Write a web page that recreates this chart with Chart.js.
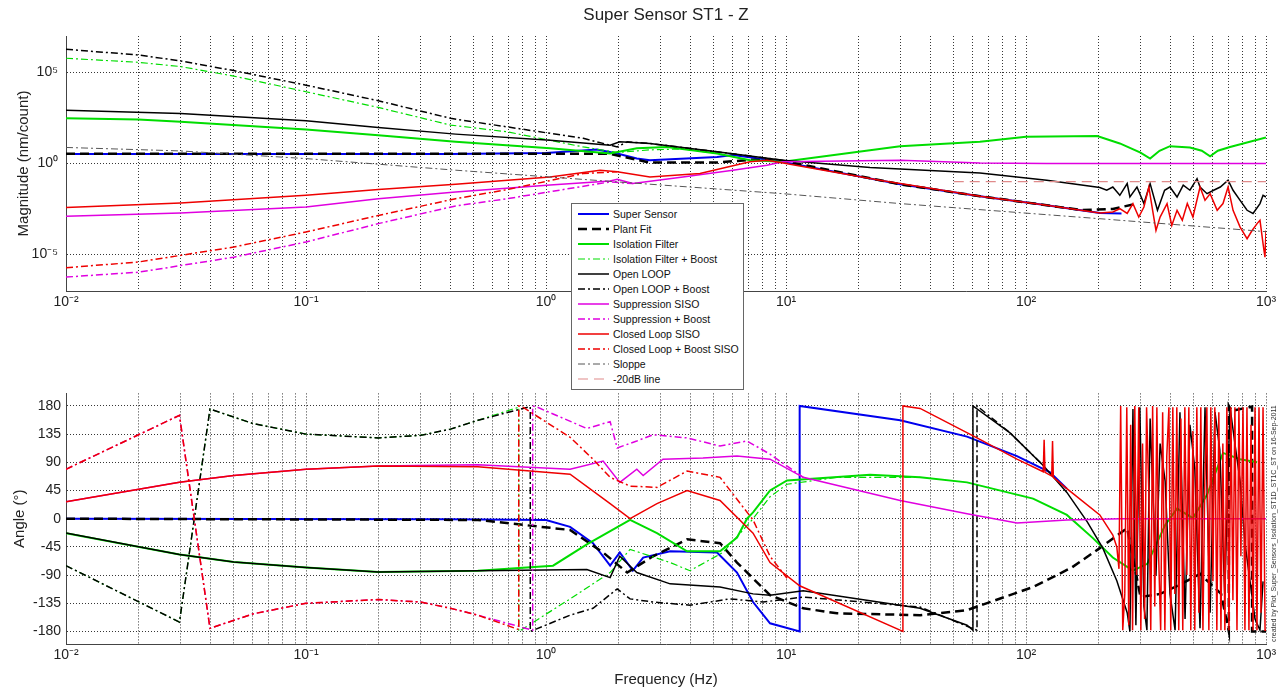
<!DOCTYPE html>
<html lang="en">
<head>
<meta charset="UTF-8">
<title>Super Sensor ST1 - Z</title>
<script src="https://cdn.jsdelivr.net/npm/chart.js"></script>
<style>
  body { margin: 0; background: #fff; width: 1285px; height: 690px; overflow: hidden; position: relative;
         font-family: "Liberation Sans", Arial, sans-serif; }
  #magBox { position: absolute; left: 0; top: 0; }
  #phaseBox { position: absolute; left: 0; top: 380px; }
  #title { position: absolute; left: 66px; width: 1200px; top: 5px; text-align: center; font-size: 17px; color: #222; }
  /* legend sits over both axes, like the matlab one */
  #legend { position: absolute; left: 571px; top: 203px; width: 171px; padding: 2px 0 3px 0;
            border: 1px solid #666; background: #fff; font-size: 10.5px; color: #111; }
  #legend .row { height: 15px; display: flex; align-items: center; }
  #legend svg { margin: 0 4px 0 6px; }
  #stamp { position: absolute; left: 1270px; top: 398px; height: 244px; font-size: 7px; color: #333;
           writing-mode: vertical-rl; transform: rotate(180deg); white-space: nowrap; }
</style>
</head>
<body>

<div id="magBox"><canvas id="magChart" width="1285" height="311"></canvas></div>
<div id="phaseBox"><canvas id="phaseChart" width="1285" height="310"></canvas></div>
<div id="title">Super Sensor ST1 - Z</div>
<div id="legend"></div>
<div id="stamp">created by Plot_Super_Sensors_Isolation_ST1D_ST1C_ST on 16-Sep-2011</div>

<script>
// ---- axes / ticks ----
const xDecades = [0.01, 0.1, 1, 10, 100, 1000];
const xDecadeLabels = ['10⁻²', '10⁻¹', '10⁰', '10¹', '10²', '10³'];
const magTickValues = [1e-5, 1, 1e5];
const magTickLabels = ['10⁻⁵', '10⁰', '10⁵'];
const phaseTickValues = [-180, -135, -90, -45, 0, 45, 90, 135, 180];

// ---- magnitude (nm/count), pairs of [Hz, value] ----
const superSensorMag = [[0.01,3.3],[0.4,3.3],[1.0,3.8],[1.63,5.9],[1.98,3.5],[2.39,1.9],[2.71,1.5],[5.16,2.3],[6.01,2.9],
  [9.72,1.23],[29.9,0.072],[64.3,0.016],[122,0.0051],[203,0.0019],[250,0.0018]];
const plantFitMag = [[0.01,3.4],[1.0,3.4],[1.85,3.4],[2.39,1.6],[2.71,1.12],[5.16,1.12],[7.08,1.6],[9.72,1.4],
  [29.9,0.072],[64.3,0.016],[122,0.0051],[170,0.0028],[230,0.0032],[279,0.0056]];
const isoMag = [[0.01,302],[0.02,263],[0.03,195],[0.1,74],[0.2,36],[0.42,15.5],[1.04,6.8],[1.85,3.5],[2.39,6.8],
  [3.19,8.1],[5.16,3.5],[7.08,1.5],[9.72,1.23],[29.9,8.9],[64.3,15.5],[100,29],[198,32],[246,12.6],[300,4.0],
  [329,1.86],[360,5.0],[398,8.9],[482,7.6],[540,5.0],[585,2.5],[630,5.0],[708,8.1],[1000,27]];
const isoBoostMag = [[0.01,6.0e5],[0.02,3.6e5],[0.03,2.1e5],[0.05,6.3e4],[0.1,8.7e3],[0.2,1.2e3],[0.4,129],[0.69,55],
  [1.43,8.1],[1.98,4.0],[2.71,5.6],[3.72,6.3],[5.16,3.5]];
const openLoopMag = [[0.01,850],[0.03,560],[0.1,224],[0.2,95],[0.42,41],[1.04,19],[1.85,10],[2.03,15.5],[2.71,12.6],
  [5.16,4.4],[9.72,1.5],[22.4,0.6],[64.3,0.30],[122,0.12],[203,0.048],[217,0.034],[230,0.051],[246,0.018],[264,0.079],
  [271,0.0145],[290,0.051],[310,0.0063],[329,0.079],[353,0.0027],[378,0.034],[398,0.051],[426,0.0145],[452,0.064],
  [482,0.034],[516,0.148],[531,0.051],[568,0.022],[605,0.034],[645,0.051],[695,0.12],[729,0.034],[780,0.0095],
  [834,0.0027],[883,0.0018],[944,0.0063],[972,0.018],[1000,0.0145]];
const openLoopBoostMag = [[0.01,1.86e6],[0.02,9.1e5],[0.03,4.3e5],[0.05,1.26e5],[0.1,2.0e4],[0.2,2.8e3],[0.4,302],
  [0.69,102],[1.43,24],[1.98,8.1],[2.18,15.5],[2.71,12.6],[5.16,4.4],[9.72,1.5]];
const suppMag = [[0.01,0.00126],[0.03,0.0019],[0.1,0.0041],[0.2,0.0117],[0.42,0.0275],[1.04,0.065],[1.85,0.11],
  [1.98,0.138],[2.3,0.079],[3.72,0.18],[6.01,0.43],[8.33,0.81],[9.72,1.23],[29.9,1.5],[64.3,1.07],[122,1.0],[1000,1.0]];
const suppBoostMag = [[0.01,5.8e-7],[0.02,1.07e-6],[0.05,7.2e-6],[0.1,4.9e-5],[0.2,5.0e-4],[0.42,4.7e-3],
  [0.69,0.0117],[1.85,0.098],[2.3,0.079]];
const closedLoopMag = [[0.01,0.0038],[0.03,0.0068],[0.1,0.018],[0.2,0.037],[0.42,0.072],[1.04,0.18],[1.68,0.43],
  [1.98,0.35],[2.71,0.18],[4.38,0.28],[7.08,1.23],[8.33,1.5],[9.72,1.07],[24.6,0.12],[64.3,0.016],[122,0.0051],
  [203,0.0019],[230,0.0022],[246,0.0033],[264,0.0018],[279,0.0063],[295,0.00115],[310,0.0041],[325,0.051],
  [337,0.0027],[348,0.00021],[362,0.00115],[387,0.0063],[405,0.0004],[426,0.0027],[448,0.00076],[470,0.0063],
  [496,0.00115],[531,0.051],[557,0.0095],[585,0.022],[626,0.0027],[662,0.0063],[695,0.051],[729,0.0027],
  [780,0.00032],[834,7.4e-5],[875,0.00021],[918,0.0005],[944,0.00076],[972,4.0e-5],[990,7.2e-6],[1000,0.00021]];
const closedLoopBoostMag = [[0.01,1.9e-6],[0.02,3.9e-6],[0.05,2.6e-5],[0.1,1.74e-4],[0.2,0.0014],[0.42,0.0117],
  [0.69,0.037],[1.43,0.28],[1.98,0.35]];
const sloppeMag = [[0.01,7.6],[0.03,4.9],[0.1,1.86],[0.42,0.43],[1.98,0.098],[9.72,0.022],[29.9,0.0063],
  [203,9.3e-4],[870,2.1e-4],[1000,1.8e-4]];
const minus20dBMag = [[50,0.1],[1000,0.1]];

// ---- phase (deg), pairs of [Hz, deg] ----
const superSensorPh = [[0.01,0],[0.4,-1],[1.0,-2],[1.26,-13],[1.57,-39],[1.85,-75],[2.03,-54],[2.30,-83],[2.54,-62],
  [3.29,-52],[5.16,-54],[6.25,-86],[7.29,-133],[8.58,-167],[11.4,-180],[11.4,180],[29.9,157],[56.8,131],[91.7,100],
  [126,74],[148,48]];
const plantFitPh = [[0.01,0],[0.52,-2],[1.26,-18],[1.73,-54],[2.18,-86],[2.79,-60],[3.87,-33],[5.31,-39],[6.25,-70],
  [8.58,-122],[11.8,-143],[16.3,-151],[36.2,-154],[56.8,-146],[107,-109],[155,-78],[203,-47],[264,-15],[300,-125],
  [362,-120],[440,-105],[531,-88],[650,-120],[700,-180],[700,180],[720,172],[875,179],[875,-180],[1000,-180]];
const isoPh = [[0.01,-23],[0.0297,-57],[0.05,-69],[0.1,-78],[0.2,-85],[0.52,-83],[1.07,-75],[1.48,-41],[2.24,-2],[2.90,-23],
  [3.87,-52],[5.31,-52],[6.25,-30],[6.88,0],[7.29,10],[8.58,45],[10.1,61],[22.4,70],[36.2,66],[56.8,58],[107,32],
  [148,6],[190,-31],[230,-62],[279,-83],[320,-72],[380,-10],[426,16],[496,1],[568,38],[662,105],[780,95],[918,90]];
const isoBoostPh = [[0.01,-75],[0.0297,-165],[0.0398,175],[0.06,152],[0.1,135],[0.2,129],[0.3,133],[0.4,143],[0.52,157],
  [0.77,178],[0.77,-180],
  [1.26,-128],[1.85,-86],[2.24,-49],[3.29,-70],[3.98,-83],[5.46,-54],[7.29,0],[8.58,35],[10.1,55],[16.3,66],[36.2,66]];
const openLoopPh = [[0.01,-23],[0.0297,-57],[0.05,-69],[0.1,-78],[0.2,-85],[0.52,-83],[1.48,-81],[1.85,-94],[2.03,-60],
  [2.39,-86],[3.29,-104],[5.31,-109],[7.29,-120],[8.58,-122],[11.8,-115],[36.2,-143],[56.8,-170],[60.1,-178],
  [60.1,180],[85.8,137],[118,85],[148,42],[180,-5],[209,-47],[239,-99],[264,-150],[271,-180],[279,175],[287,-170],
  [298,178],[310,-140],[319,-178],[329,160],[348,-90],[362,120],[380,60],[398,-120],[418,-178],[438,170],[460,-160],
  [482,150],[505,80],[531,-175],[557,178],[585,-150],[613,170],[642,110],[673,-120],[708,178],[742,120],[780,60],
  [818,-40],[858,-100],[900,-160],[944,-178],[972,-100]];
const openLoopBoostPh = [[0.01,-75],[0.0297,-165],[0.0398,175],[0.06,152],[0.1,135],[0.2,129],[0.3,133],[0.4,143],
  [0.52,157],[0.86,179],[0.86,-180],
  [1.26,-154],[1.57,-143],[1.98,-112],[2.24,-128],[2.79,-133],[3.98,-138],[5.84,-128],[8.02,-133],[11.8,-125],
  [36.2,-141],[62.5,-178],[62.5,180],[85.8,137],[118,85]];
const suppPh = [[0.01,27],[0.0297,58],[0.05,69],[0.1,79],[0.2,84],[0.52,86],[1.26,79],[1.73,92],[2.03,58],[2.39,79],[2.54,69],
  [3.07,95],[4.51,97],[6.25,100],[8.58,95],[11.8,66],[29.9,29],[56.8,8],[91.7,-7],[148,-2],[250,0],[1000,0]];
const suppBoostPh = [[0.01,79],[0.0297,165],[0.0398,-175],[0.06,-152],[0.1,-135],[0.2,-129],[0.3,-133],[0.4,-143],
  [0.52,-154],[0.88,-178],[0.88,180],
  [0.92,178],[1.48,144],[1.85,155],[1.98,113],[2.39,124],[2.79,134],[3.87,129],[5.31,116],[6.88,124],[8.58,103],[11.8,66]];
const closedLoopPh = [[0.01,27],[0.0297,58],[0.05,69],[0.1,79],[0.2,84],[0.52,83],[1.26,71],[1.85,24],[2.24,0],[2.90,24],
  [3.87,45],[5.31,29],[7.29,-23],[8.58,-70],[11.4,-107],[30.7,-180],[30.7,180],[36.2,176],[62.5,129],[91.7,95],
  [118,75],[119,126],[120,74],[128,68],[129,124],[130,66],[148,48],[203,6],[230,-26],
  [239,-45],[244,-80],[248,180],[253,-178],[258,-120],[263,178],[268,-170],[273,150],[278,-178],[284,180],[289,-90],
  [295,178],[301,-178],[306,120],[312,-160],[318,178],[325,40],[331,-178],[337,180],[344,-140],[351,178],[357,-60],
  [364,-178],[371,170],[379,-178],[386,100],[394,178],[401,-178],[409,178],[417,-120],[425,178],[433,-178],[442,160],
  [450,-178],[459,178],[468,-90],[477,178],[486,-178],[496,140],[505,-178],[515,178],[525,-150],[535,178],[546,-178],
  [556,60],[567,178],[578,-178],[589,178],[601,-100],[612,178],[624,-178],[636,170],[649,-178],[661,120],[674,-178],
  [687,178],[701,-178],[714,178],[728,-130],[742,178],[757,-178],[771,178],[786,-60],[802,178],[817,-178],[833,178],
  [849,-178],[866,150],[883,-178],[900,178],[917,-178],[935,178],[953,-150],[972,178],[991,-178],[1000,-178]];
const closedLoopBoostPh = [[0.01,79],[0.0297,165],[0.0398,-175],[0.06,-152],[0.1,-135],[0.2,-129],[0.3,-133],[0.4,-143],
  [0.52,-154],[0.77,-177],
  [0.77,180],[0.8,178],[1.26,130],[1.57,95],[1.85,66],[2.24,52],[2.9,50],[3.87,76],[5.31,66],[7.29,-2],[8.58,-60],[10.1,-95]];

const DASHDOT = [7, 3, 2, 3];
const DASHED = [9, 5];

const series = [
  { label: 'Super Sensor', color: '#0000ee', width: 2, dash: [], mag: superSensorMag, ph: superSensorPh },
  { label: 'Plant Fit', color: '#000000', width: 2.5, dash: DASHED, mag: plantFitMag, ph: plantFitPh },
  { label: 'Isolation Filter', color: '#00dd00', width: 2, dash: [], mag: isoMag, ph: isoPh },
  { label: 'Isolation Filter + Boost', color: '#00dd00', width: 1.2, dash: DASHDOT, mag: isoBoostMag, ph: isoBoostPh },
  { label: 'Open LOOP', color: '#000000', width: 1.5, dash: [], mag: openLoopMag, ph: openLoopPh },
  { label: 'Open LOOP + Boost', color: '#000000', width: 1.5, dash: DASHDOT, mag: openLoopBoostMag, ph: openLoopBoostPh },
  { label: 'Suppression SISO', color: '#e000e0', width: 1.5, dash: [], mag: suppMag, ph: suppPh },
  { label: 'Suppression + Boost', color: '#e000e0', width: 1.5, dash: DASHDOT, mag: suppBoostMag, ph: suppBoostPh },
  { label: 'Closed Loop SISO', color: '#ee0000', width: 1.5, dash: [], mag: closedLoopMag, ph: closedLoopPh },
  { label: 'Closed Loop + Boost SISO', color: '#ee0000', width: 1.5, dash: DASHDOT, mag: closedLoopBoostMag, ph: closedLoopBoostPh },
  { label: 'Sloppe', color: '#555555', width: 1, dash: DASHDOT, mag: sloppeMag, ph: null },
  { label: '-20dB line', color: '#e08a8a', width: 1.2, dash: [10, 6], mag: minus20dBMag, ph: null }
];

const FONT = '"Liberation Sans", Arial, sans-serif';
const gridColor = 'rgba(20,20,20,0.85)';

function makeSets(key) {
  const out = [];
  series.forEach((s, i) => {
    if (!s[key]) return;
    out.push({
      label: s.label,
      data: s[key].map(p => ({ x: p[0], y: p[1] })),
      borderColor: s.color,
      borderWidth: s.width,
      borderDash: s.dash,
      showLine: true,
      pointRadius: 0,
      tension: 0,
      order: -i   // later series drawn on top, like matlab
    });
  });
  return out;
}

function xAxis(withTitle) {
  return {
    type: 'logarithmic', min: 0.01, max: 1000,
    afterBuildTicks: s => {
      const t = [];
      xDecades.slice(0, 5).forEach(d => { for (let k = 1; k <= 9; k++) t.push({ value: d * k }); });
      t.push({ value: 1000 });
      s.ticks = t;
    },
    afterFit: s => { s.height = withTitle ? 46 : 20; },
    ticks: {
      autoSkip: false, maxRotation: 0, padding: 3, color: '#222', font: { family: FONT, size: 14 },
      callback: v => {
        const i = xDecades.findIndex(d => Math.abs(v / d - 1) < 1e-9);
        return i >= 0 ? xDecadeLabels[i] : '';
      }
    },
    grid: { color: gridColor, lineWidth: 1, drawTicks: false },
    border: { display: true, color: '#444', width: 1, dash: [1, 2] },
    title: withTitle ? { display: true, text: 'Frequency (Hz)', color: '#222',
      font: { family: FONT, size: 15 }, padding: { top: 0, bottom: 1 } } : { display: false }
  };
}

new Chart(document.getElementById('magChart'), {
  type: 'scatter',
  data: { datasets: makeSets('mag') },
  options: {
    responsive: false, animation: false,
    layout: { padding: { left: 0, right: 19, top: 36, bottom: 0 } },
    plugins: { legend: { display: false }, tooltip: { enabled: false } },
    scales: {
      x: xAxis(false),
      y: {
        type: 'logarithmic', min: 1e-7, max: 1e7,
        afterBuildTicks: s => { s.ticks = magTickValues.map(v => ({ value: v })); },
        afterFit: s => { s.width = 66; },
        ticks: { padding: 8, color: '#222', font: { family: FONT, size: 14 },
          callback: (v, i) => magTickLabels[i] },
        grid: { color: gridColor, lineWidth: 1, drawTicks: false },
        border: { display: true, color: '#444', width: 1, dash: [1, 2] },
        title: { display: true, text: 'Magnitude (nm/count)', color: '#222',
          font: { family: FONT, size: 15 }, padding: { top: 15, bottom: 0 } }
      }
    }
  }
});

new Chart(document.getElementById('phaseChart'), {
  type: 'scatter',
  data: { datasets: makeSets('ph') },
  options: {
    responsive: false, animation: false,
    layout: { padding: { left: 0, right: 19, top: 10, bottom: 0 } },
    plugins: { legend: { display: false }, tooltip: { enabled: false } },
    scales: {
      x: xAxis(true),
      y: {
        type: 'linear', min: -200, max: 200,
        afterBuildTicks: s => { s.ticks = phaseTickValues.map(v => ({ value: v })); },
        afterFit: s => { s.width = 66; },
        ticks: { padding: 5, color: '#222', font: { family: FONT, size: 14 } },
        grid: { color: gridColor, lineWidth: 1, drawTicks: false },
        border: { display: true, color: '#444', width: 1, dash: [1, 2] },
        title: { display: true, text: 'Angle (°)', color: '#222',
          font: { family: FONT, size: 15 }, padding: { top: 11, bottom: 0 } }
      }
    }
  }
});

// legend box (html), built from the same series list
const legend = document.getElementById('legend');
series.forEach(s => {
  const row = document.createElement('div');
  row.className = 'row';
  row.innerHTML = '<svg width="31" height="8"><line x1="0" y1="4" x2="31" y2="4" stroke="' + s.color +
    '" stroke-width="' + s.width + '" stroke-dasharray="' + (s.dash.length ? s.dash.join(',') : 'none') + '"/></svg>' +
    '<span>' + s.label + '</span>';
  legend.appendChild(row);
});
</script>
</body>
</html>
